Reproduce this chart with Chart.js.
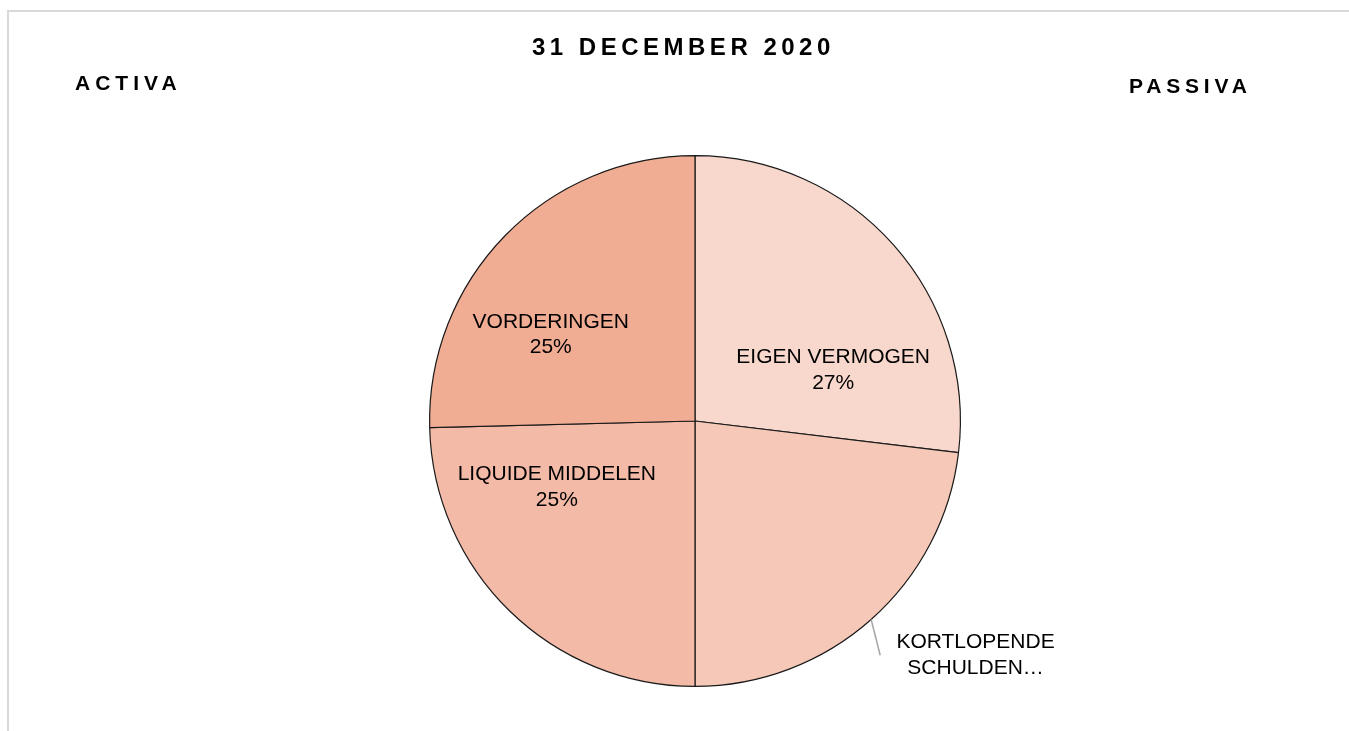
<!DOCTYPE html>
<html>
<head>
<meta charset="utf-8">
<script src="https://cdn.jsdelivr.net/npm/chart.js@4.4.1/dist/chart.umd.min.js"></script>
<style>
  html, body { margin: 0; padding: 0; background: #fff; overflow: hidden; }
  body { width: 1349px; height: 731px; position: relative; font-family: "Liberation Sans", Arial, sans-serif; }
  #frame { position: absolute; left: 7px; top: 10px; width: 1360px; height: 760px;
           border-top: 2px solid #d9d9d9; border-left: 2px solid #d9d9d9; }
  #wrap { position: absolute; left: 0; top: 0; width: 1349px; height: 731px; }
  .hdr { position: absolute; font-weight: bold; color: #000; line-height: 1; white-space: nowrap; }
  #title { left: 532px; top: 35px; font-size: 24px; letter-spacing: 4.5px; }
  #activa { left: 75px; top: 72px; font-size: 21px; letter-spacing: 5px; }
  #passiva { left: 1129px; top: 75px; font-size: 21px; letter-spacing: 4.8px; }
</style>
</head>
<body>
<div id="frame"></div>
<div id="wrap"><canvas id="pieChart"></canvas></div>
<div class="hdr" id="title">31 DECEMBER 2020</div>
<div class="hdr" id="activa">ACTIVA</div>
<div class="hdr" id="passiva">PASSIVA</div>
<script>
// balance sheet shares
const categories = ['EIGEN VERMOGEN', 'KORTLOPENDE SCHULDEN', 'LIQUIDE MIDDELEN', 'VORDERINGEN'];
const shares = [26.9, 23.1, 24.6, 25.4];
const sliceColors = ['#F8D7CC', '#F6C8B8', '#F3BAA7', '#F0AD93'];

// where each data label sits: fraction of the slice angle, fraction of the radius
const labelPlacement = [
  { a: 0.72, r: 0.555 },
  { a: 0.397, r: 1.377, lines: ['KORTLOPENDE', 'SCHULDEN\u2026'], noPct: true, leader: { a: 0.539, r: 1.125 } },
  { a: 0.728, r: 0.577 },
  { a: 0.353, r: 0.633 }
];

const sliceLabels = {
  id: 'sliceLabels',
  afterDatasetsDraw(chart) {
    const ctx = chart.ctx;
    const meta = chart.getDatasetMeta(0);
    const total = shares.reduce((s, v) => s + v, 0);
    ctx.save();
    ctx.font = '21px "Liberation Sans", Arial, sans-serif';
    ctx.fillStyle = '#000';
    ctx.textAlign = 'center';
    ctx.textBaseline = 'middle';
    meta.data.forEach((arc, i) => {
      const p = labelPlacement[i];
      const span = arc.endAngle - arc.startAngle;
      const ang = arc.startAngle + span * p.a;
      const x = arc.x + Math.cos(ang) * arc.outerRadius * p.r;
      const y = arc.y + Math.sin(ang) * arc.outerRadius * p.r;
      let lines = p.lines ? p.lines.slice() : [categories[i]];
      if (!p.noPct) lines.push(Math.round(shares[i] / total * 100) + '%');
      const lh = 25.5;
      lines.forEach((t, k) => {
        ctx.fillText(t, x, y + (k - (lines.length - 1) / 2) * lh);
      });
      if (p.leader) {
        const mid = arc.startAngle + span / 2;
        const la = arc.startAngle + span * p.leader.a;
        ctx.beginPath();
        ctx.strokeStyle = '#a6a6a6';
        ctx.lineWidth = 1.5;
        ctx.moveTo(arc.x + Math.cos(mid) * arc.outerRadius, arc.y + Math.sin(mid) * arc.outerRadius);
        ctx.lineTo(arc.x + Math.cos(la) * arc.outerRadius * p.leader.r, arc.y + Math.sin(la) * arc.outerRadius * p.leader.r);
        ctx.stroke();
      }
    });
    ctx.restore();
  }
};

const ctx = document.getElementById('pieChart').getContext('2d');
const pieChart = new Chart(ctx, {
  type: 'pie',
  data: {
    labels: categories,
    datasets: [{
      data: shares,
      backgroundColor: sliceColors,
      borderColor: '#1a1a1a',
      borderWidth: 1.2
    }]
  },
  options: {
    responsive: true,
    maintainAspectRatio: false,
    animation: false,
    layout: { padding: { top: 155, bottom: 44, left: 61, right: 20 } },
    plugins: {
      legend: { display: false },
      tooltip: { enabled: false }
    }
  },
  plugins: [sliceLabels]
});
</script>
</body>
</html>
